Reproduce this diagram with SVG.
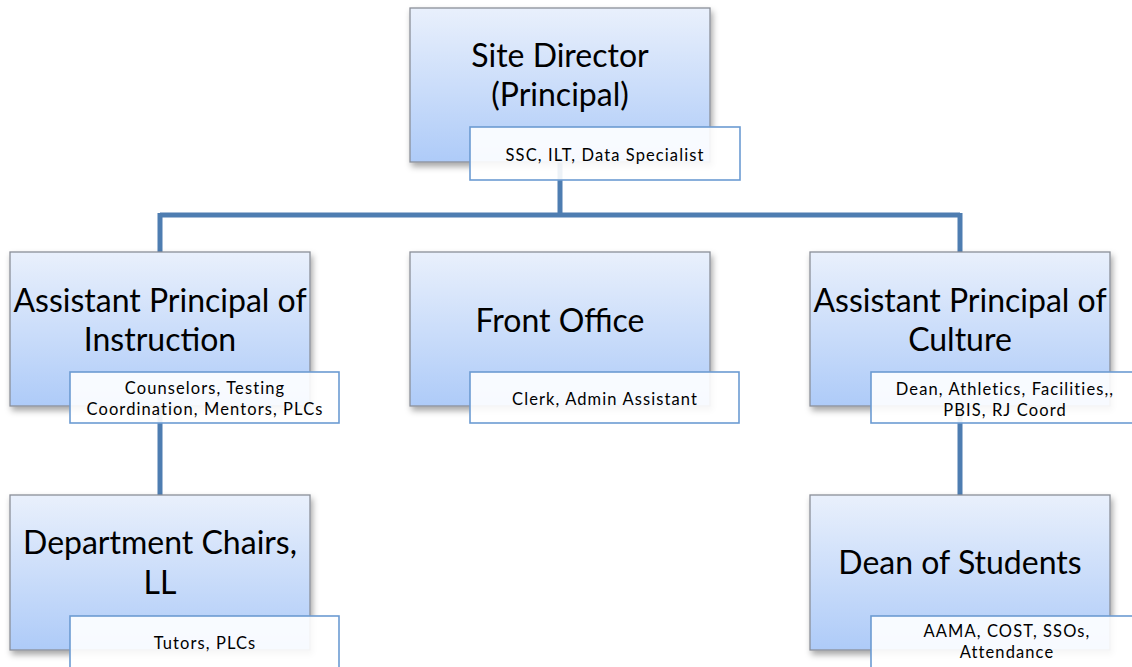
<svg xmlns="http://www.w3.org/2000/svg" width="1132" height="667" viewBox="0 0 1132 667">
<defs>
<linearGradient id="g" x1="0" y1="0" x2="0" y2="1">
<stop offset="0" stop-color="#E9F0FC"/>
<stop offset="1" stop-color="#AECBF8"/>
</linearGradient>
<filter id="sh" x="-10%" y="-10%" width="125%" height="130%">
<feDropShadow dx="2" dy="4" stdDeviation="3" flood-color="#000" flood-opacity="0.35"/>
</filter>
</defs>
<style>
.box{fill:url(#g);stroke:#8A8F98;stroke-width:1.3;filter:url(#sh)}
.sub{fill:#FFFFFF;fill-opacity:0.9;stroke:#6C9BD2;stroke-width:1.6}
.t{font-family:Lato,"Open Sans",sans-serif;font-size:32px;fill:#000;text-anchor:middle}
.s{font-family:Lato,"Open Sans",sans-serif;font-size:16.5px;letter-spacing:1.1px;fill:#000;text-anchor:middle}
.c{stroke:#4E7DB1;stroke-width:5;fill:none}
</style>
<g id="connectors">
<path class="c" d="M560 150 V215 M160 215 H960 M160 213 V252 M960 213 V252 M160 406 V495 M960 406 V495"/>
</g>
<g id="n-site-director">
<rect class="box" x="410" y="8" width="300" height="154"/>
<text class="t" x="560" y="67">Site Director</text>
<text class="t" x="560" y="105.5">(Principal)</text>
</g>
<g id="n-site-director-sub">
<rect class="sub" x="470" y="127" width="270" height="53"/>
<text class="s" x="605" y="161">SSC, ILT, Data Specialist</text>
</g>
<g id="n-ap-instruction">
<rect class="box" x="10" y="252" width="300" height="154"/>
<text class="t" x="160" y="312">Assistant Principal of</text>
<text class="t" x="160" y="350.5">Instruction</text>
</g>
<g id="n-ap-instruction-sub">
<rect class="sub" x="70" y="372" width="269" height="51"/>
<text class="s" x="205" y="394">Counselors, Testing</text>
<text class="s" x="205" y="414.5">Coordination, Mentors, PLCs</text>
</g>
<g id="n-front-office">
<rect class="box" x="410" y="252" width="300" height="154"/>
<text class="t" x="560" y="332">Front Office</text>
</g>
<g id="n-front-office-sub">
<rect class="sub" x="470" y="372" width="269" height="51"/>
<text class="s" x="605" y="405">Clerk, Admin Assistant</text>
</g>
<g id="n-ap-culture">
<rect class="box" x="810" y="252" width="300" height="154"/>
<text class="t" x="960" y="312">Assistant Principal of</text>
<text class="t" x="960" y="350.5">Culture</text>
</g>
<g id="n-ap-culture-sub">
<rect class="sub" x="871" y="372" width="269" height="51"/>
<text class="s" x="1005" y="395">Dean, Athletics, Facilities,,</text>
<text class="s" x="1005" y="415.5">PBIS, RJ Coord</text>
</g>
<g id="n-dept-chairs">
<rect class="box" x="10" y="495" width="300" height="155"/>
<text class="t" x="160" y="554">Department Chairs,</text>
<text class="t" x="160" y="594">LL</text>
</g>
<g id="n-dept-chairs-sub">
<rect class="sub" x="70" y="616" width="269" height="52"/>
<text class="s" x="205" y="649">Tutors, PLCs</text>
</g>
<g id="n-dean-students">
<rect class="box" x="810" y="495" width="300" height="155"/>
<text class="t" x="960" y="574">Dean of Students</text>
</g>
<g id="n-dean-students-sub">
<rect class="sub" x="871" y="616" width="269" height="52"/>
<text class="s" x="1007" y="637">AAMA, COST, SSOs,</text>
<text class="s" x="1007" y="657.5">Attendance</text>
</g>
</svg>
